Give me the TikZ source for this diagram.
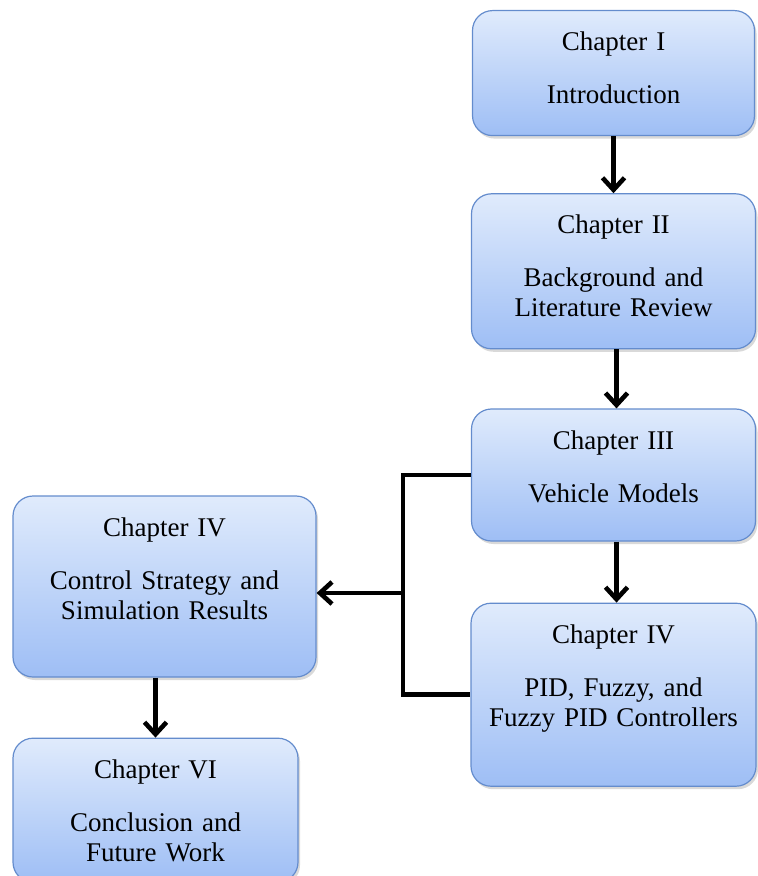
\documentclass[tikz,border=0pt]{standalone}
\usepackage{fontspec}
\setmainfont{Liberation Serif}
\usetikzlibrary{arrows.meta,positioning,shadows}
\definecolor{chtop}{RGB}{224,235,252}
\definecolor{chbot}{RGB}{158,190,245}
\definecolor{chline}{RGB}{100,140,205}
\tikzstyle{chbox} = [rectangle, draw=chline, line width=0.6pt,
    top color=chtop, bottom color=chbot, rounded corners=10pt,
    inner sep=0pt, text centered, text height=20pt,
    drop shadow={opacity=0.3, shadow xshift=1pt, shadow yshift=-1.5pt},
    font=\fontsize{13.5}{15}\selectfont]
\tikzstyle{go} = [-{Straight Barb[length=6pt,width=11pt]}, line width=2.3pt]

\begin{document}
\begin{tikzpicture}[node distance=30pt]
  \useasboundingbox (0,0) rectangle (379pt,-438pt);

  \node[chbox, text width=141pt, text depth=42.5pt] (ch1) at (306.75pt,-5pt) [anchor=north]
       {Chapter I\\[11.5pt] Introduction};
  \node[chbox, text width=142pt, text depth=57.5pt] (ch2) [below=28.5pt of ch1]
       {Chapter II\\[11.5pt] Background and\\ Literature Review};
  \node[chbox, text width=142pt, text depth=46pt] (ch3) [below=29.5pt of ch2]
       {Chapter III\\[11.5pt] Vehicle Models};
  \node[chbox, text width=142.5pt, text depth=71.5pt] (ch4) [below=30.5pt of ch3]
       {Chapter IV\\[11.5pt] PID, Fuzzy, and\\ Fuzzy PID Controllers};
  \node[chbox, text width=151.5pt, text depth=70.5pt] (ch4l) at (82.25pt,-293.25pt)
       {Chapter IV\\[11.5pt] Control Strategy and\\ Simulation Results};
  \node[chbox, text width=142.5pt, text depth=52pt, anchor=north west] (ch6)
       at ([yshift=-30pt]ch4l.south west)
       {Chapter VI\\[11.5pt] Conclusion and\\ Future Work};

  \coordinate (split) at (201.5pt,-296.5pt);

  \draw[go] (ch1) -- (ch2);
  \draw[go] ([xshift=1.5pt]ch2.south) -- ([xshift=1.5pt]ch3.north);
  \draw[go] ([xshift=1.5pt]ch3.south) -- ([xshift=1.5pt]ch4.north);
  \draw[line width=2.3pt] (ch3.west) -| (split) |- (ch4.west);
  \draw[go] (split) -- (split -| ch4l.east);
  \draw[go] (ch6.north |- ch4l.south) -- (ch6.north);
\end{tikzpicture}
\end{document}
